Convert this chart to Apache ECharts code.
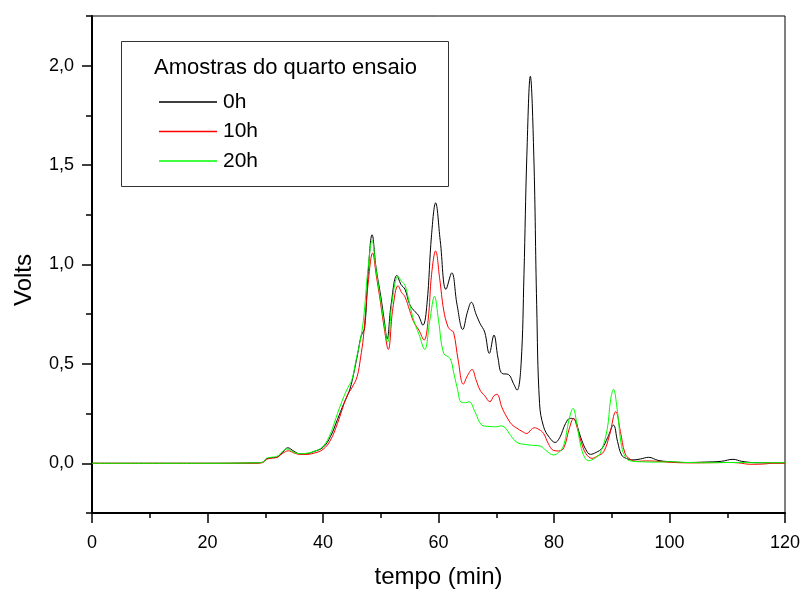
<!DOCTYPE html>
<html>
<head>
<meta charset="utf-8">
<script src="https://cdn.jsdelivr.net/npm/echarts@6/dist/echarts.min.js"></script>
<style>
html,body{margin:0;padding:0;background:#fff;}
#chart{width:805px;height:590px;}
</style>
</head>
<body>
<div id="chart"></div>
<script>
// ---- Data ----
var seriesNames = ['0h', '10h', '20h'];
var legendTitle = 'Amostras do quarto ensaio';
var xTickValues = [0, 20, 40, 60, 80, 100, 120];
var yTickValues = [0.0, 0.5, 1.0, 1.5, 2.0];

var time0h = [0,10,20,28,29.5,30.2,31,32,33,33.9,35,36,37,38.3,40,41.3,42.5,43.6,44.5,45.0,46.0,46.6,47.2,47.8,48.5,49.2,50.0,50.6,51.1,51.8,52.8,53.5,54.2,55.0,55.7,56.5,57.3,58.0,58.8,59.5,60.3,61.3,62.3,63.2,64.2,65.0,65.7,66.5,67.2,68.0,68.8,69.6,70.3,71.0,72.1,73.0,73.6,74.3,74.8,75.3,75.9,76.5,77.0,77.5,78.2,79.2,80.2,81.0,82.0,82.8,83.6,84.3,84.8,85.5,86.3,87.3,88.3,89.3,90.3,91.0,91.7,92.5,93.7,95.0,96.4,98.0,100,103,106,109,111,112.5,115,120];
var volts0h = [0,0,0,0.002,0.005,0.022,0.028,0.03,0.055,0.078,0.06,0.047,0.047,0.058,0.08,0.135,0.22,0.30,0.36,0.41,0.55,0.64,0.68,0.95,1.15,0.98,0.84,0.72,0.625,0.80,0.945,0.90,0.875,0.80,0.77,0.745,0.695,0.80,1.15,1.31,1.12,0.875,0.958,0.80,0.673,0.76,0.81,0.75,0.703,0.66,0.553,0.645,0.53,0.452,0.447,0.40,0.368,0.50,0.95,1.55,1.947,1.55,0.80,0.30,0.184,0.13,0.105,0.13,0.20,0.226,0.22,0.16,0.117,0.07,0.045,0.055,0.075,0.13,0.192,0.11,0.042,0.025,0.017,0.022,0.03,0.015,0.008,0.004,0.006,0.01,0.02,0.01,0.003,0.002];

var time10h = [0,20,28,29.5,30.2,31,32,33,34,35,36,37,38.3,40,41.3,42.5,44.1,45.0,45.9,46.5,47.0,47.8,48.6,49.2,49.9,50.6,51.3,52.1,53.0,53.6,54.2,55.0,55.7,56.6,57.5,58.2,58.8,59.5,60.2,60.9,61.6,62.1,62.6,63.4,64.3,65.0,65.8,66.5,67.2,68.0,68.9,69.6,70.1,71.0,71.8,72.7,73.6,74.5,75.3,76.0,76.6,77.4,78.2,79.0,79.9,80.8,81.7,82.6,83.4,84.0,84.6,85.5,86.6,87.6,88.6,89.6,90.7,91.5,92.3,93.2,94.3,96,98,100,104,107,110,112,114,116,118,120];
var volts10h = [0,0,0,0.003,0.02,0.025,0.03,0.05,0.063,0.052,0.045,0.045,0.05,0.07,0.117,0.20,0.335,0.38,0.435,0.53,0.636,0.90,1.058,0.95,0.82,0.68,0.573,0.78,0.893,0.86,0.837,0.77,0.712,0.67,0.62,0.72,0.95,1.068,0.93,0.77,0.69,0.67,0.66,0.52,0.398,0.44,0.472,0.42,0.368,0.34,0.31,0.34,0.347,0.28,0.234,0.195,0.176,0.16,0.15,0.168,0.179,0.17,0.15,0.10,0.065,0.062,0.078,0.17,0.226,0.18,0.117,0.05,0.025,0.038,0.058,0.14,0.26,0.16,0.05,0.02,0.01,0.012,0.01,0.005,0.002,0.003,0.004,0.002,-0.005,-0.004,0,0];

var time20h = [0,20,28,29.5,30.2,31,32,33,33.7,35,36,37,38.3,40,41.3,42.5,43.6,44.3,45.0,45.8,46.4,47.0,47.8,48.5,49.2,49.9,50.5,51.2,52.0,53.0,53.6,54.2,55.0,55.7,56.6,57.6,58.5,59.3,60.0,60.9,62.0,62.6,63.2,64.0,64.7,65.3,66.3,67.5,68.5,70.1,70.8,71.5,72.5,73.6,75.0,76.5,77.6,78.8,79.9,80.8,81.7,82.6,83.3,84.0,84.6,85.3,86.0,87.0,88.0,89.2,89.8,90.3,90.9,91.7,92.4,93.1,95,98,100,103,107,111,115,120];
var volts20h = [0,0,0.002,0.005,0.025,0.03,0.035,0.06,0.072,0.055,0.048,0.05,0.058,0.085,0.15,0.25,0.335,0.38,0.42,0.53,0.61,0.72,0.98,1.12,0.97,0.837,0.72,0.61,0.82,0.94,0.915,0.896,0.80,0.72,0.65,0.573,0.72,0.84,0.72,0.553,0.528,0.46,0.385,0.306,0.305,0.31,0.26,0.192,0.186,0.184,0.188,0.18,0.14,0.105,0.095,0.09,0.087,0.06,0.042,0.055,0.092,0.22,0.276,0.19,0.092,0.03,0.013,0.025,0.05,0.17,0.32,0.372,0.28,0.085,0.03,0.013,0.008,0.006,0.008,0.004,0.003,0.004,0.003,0.003];

var seriesColors = ['#000000', '#ff0000', '#00ff00'];

function zip(t, v) { return t.map(function (x, i) { return [x, v[i]]; }); }
var allTimes = [time0h, time10h, time20h];
var allVolts = [volts0h, volts10h, volts20h];

var FONT = 'Liberation Sans, Arial, sans-serif';
var chart = echarts.init(document.getElementById('chart'), null, {renderer: 'canvas'});

var series = seriesNames.map(function (name, i) {
  return {
    name: name,
    type: 'line',
    xAxisIndex: 0,
    yAxisIndex: 0,
    data: zip(allTimes[i], allVolts[i]),
    symbol: 'none',
    showSymbol: false,
    smooth: 0.4,
    lineStyle: {color: seriesColors[i], width: 1},
    itemStyle: {color: seriesColors[i]},
    animation: false,
    z: 3 + i
  };
});

var legendData = seriesNames.map(function (name, i) {
  return {name: name, icon: 'rect', itemStyle: {color: seriesColors[i], opacity: 1, borderWidth: 0}};
});

chart.setOption({
  animation: false,
  backgroundColor: '#ffffff',
  grid: [
    {left: 92, right: 20, top: 16, bottom: 77, show: true, borderColor: '#000', borderWidth: 1, containLabel: false, outerBoundsMode: 'none'},
    {left: 92, right: 20, top: 65.7, bottom: 126.7, show: false, containLabel: false, outerBoundsMode: 'none'}
  ],
  xAxis: [
    {
      type: 'value', gridIndex: 0, min: 0, max: 120, interval: 20,
      name: 'tempo (min)', nameLocation: 'middle', nameGap: 52,
      nameTextStyle: {fontFamily: FONT, fontSize: 24, color: '#000'},
      axisLine: {show: true, onZero: false, lineStyle: {color: '#000', width: 2}},
      axisTick: {show: true, inside: false, length: 10, lineStyle: {color: '#000', width: 1.5}},
      minorTick: {show: true, splitNumber: 2, length: 5, lineStyle: {color: '#000', width: 1.5}},
      splitLine: {show: false},
      axisLabel: {fontFamily: FONT, fontSize: 18, color: '#000', margin: 21,
        formatter: function (v) { return xTickValues.indexOf(v) >= 0 ? String(v) : ''; }}
    },
    {type: 'value', gridIndex: 1, min: 0, max: 120, show: false, axisLine: {onZero: false}}
  ],
  yAxis: [
    {
      type: 'value', gridIndex: 0, min: -0.25, max: 2.25, interval: 0.25,
      axisLine: {show: true, onZero: false, lineStyle: {color: '#000', width: 2}},
      axisTick: {show: true, inside: false, length: 6, lineStyle: {color: '#000', width: 1.5}},
      splitLine: {show: false},
      axisLabel: {show: false}
    },
    {
      type: 'value', gridIndex: 1, min: 0, max: 2.0, interval: 0.5,
      axisLine: {show: false, onZero: false},
      axisTick: {show: true, inside: false, length: 10, lineStyle: {color: '#000', width: 1.5}},
      splitLine: {show: false},
      axisLabel: {fontFamily: FONT, fontSize: 18, color: '#000', margin: 18,
        formatter: function (v) {
          var ok = yTickValues.some(function (t) { return Math.abs(t - v) < 1e-9; });
          return ok ? v.toFixed(1).replace('.', ',') : '';
        }}
    }
  ],
  legend: {
    show: true,
    orient: 'vertical',
    left: 154,
    top: 82.5,
    itemWidth: 58,
    itemHeight: 1.3,
    itemGap: 0.5,
    data: legendData,
    textStyle: {fontFamily: FONT, fontSize: 21, lineHeight: 29, color: '#000', padding: [0, 0, 0, 1]},
    selectedMode: false
  },
  graphic: [
    {type: 'rect', shape: {x: 121.5, y: 41.5, width: 327, height: 145},
      style: {fill: 'rgba(0,0,0,0)', stroke: '#333', lineWidth: 1}, z: 10, silent: true},
    {type: 'text', x: 154, y: 57, style: {text: legendTitle, font: '22px ' + FONT, fill: '#000', textAlign: 'left', textVerticalAlign: 'top'}, z: 10, silent: true},
    {type: 'text', x: 24, y: 280, rotation: Math.PI / 2,
      style: {text: 'Volts', font: '24px ' + FONT, fill: '#000', textAlign: 'center', textVerticalAlign: 'middle'}, z: 10, silent: true}
  ],
  series: series
});
</script>
</body>
</html>
